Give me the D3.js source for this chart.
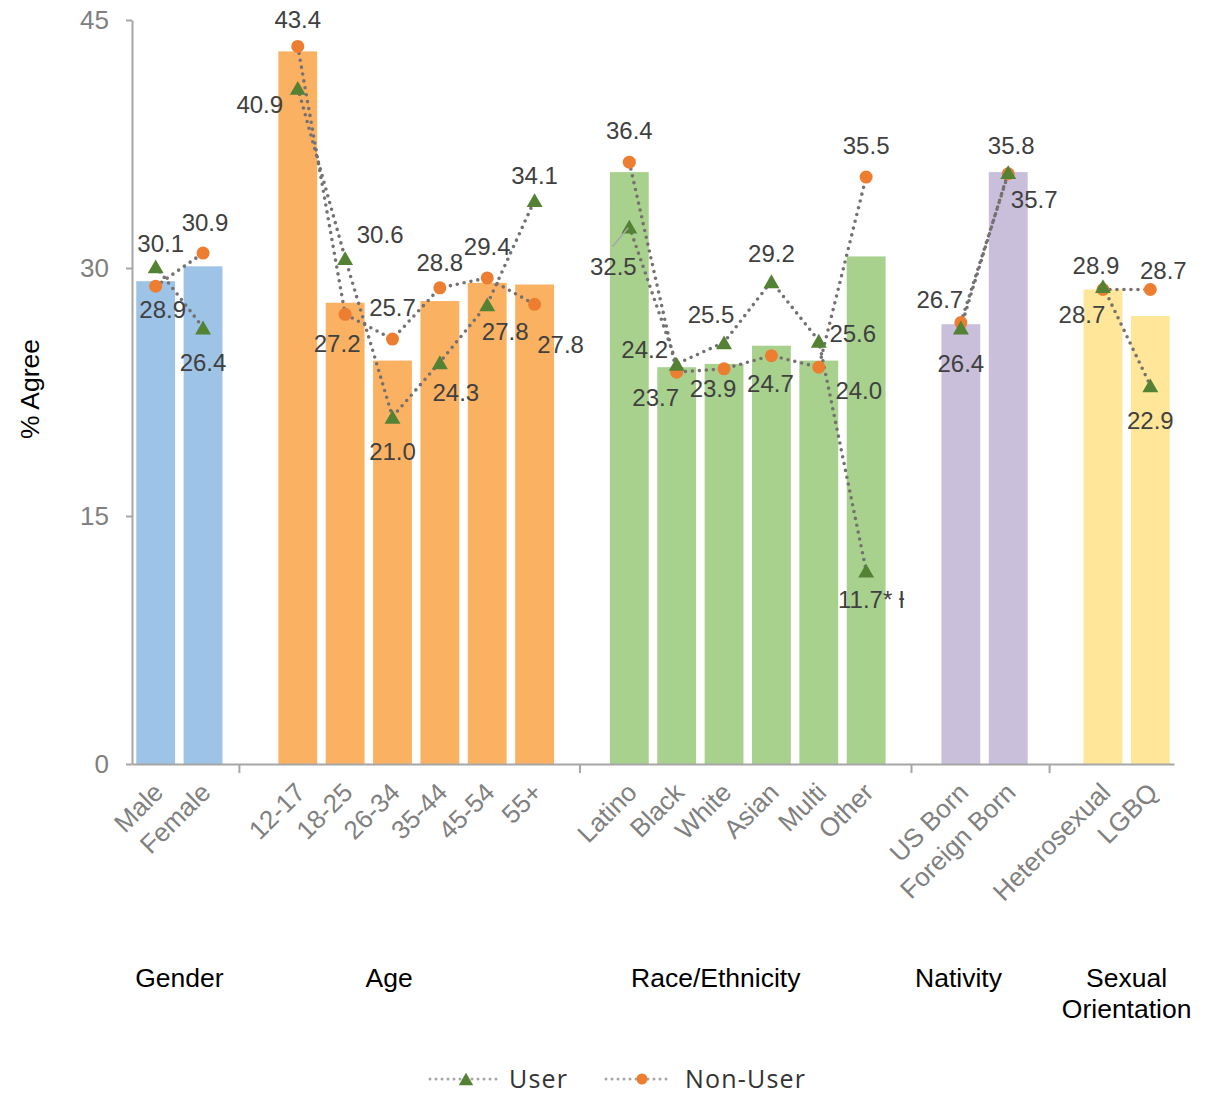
<!DOCTYPE html>
<html><head><meta charset="utf-8">
<script src="https://cdn.jsdelivr.net/npm/d3@7"></script>
<style>body{margin:0;background:#fff;} svg{display:block;}</style>
</head><body>
<svg id="chart" width="1207" height="1094"></svg>
<script>
// ---------- data ----------
const groups = ["Gender","Age","Race/Ethnicity","Nativity","Sexual Orientation"];
const categories = ["Male","Female","12-17","18-25","26-34","35-44","45-54","55+","Latino","Black","White","Asian","Multi","Other","US Born","Foreign Born","Heterosexual","LGBQ"];
const categoryGroup = [0,0,1,1,1,1,1,1,2,2,2,2,2,2,3,3,4,4];
const totalValues   = [29.2,30.1,43.1,27.9,24.4,28.0,29.1,29.0,35.8,24.0,24.2,25.3,24.4,30.7,26.6,35.8,28.7,27.1];
const userValues    = [30.1,26.4,40.9,30.6,21.0,24.3,27.8,34.1,32.5,24.2,25.5,29.2,25.6,11.7,26.4,35.8,28.9,22.9];
const nonUserValues = [28.9,30.9,43.4,27.2,25.7,28.8,29.4,27.8,36.4,23.7,23.9,24.7,24.0,35.5,26.7,35.7,28.7,28.7];
const userLabels = userValues.map(v => v.toFixed(1));
userLabels[13] = "11.7* \u019A";
const nonUserLabels = nonUserValues.map(v => v.toFixed(1));
const yTicks = [0, 15, 30, 45];
const seriesNames = ["User", "Non-User"];
const yTitle = "% Agree";

// ---------- layout / style ----------
const groupColors = ["#9DC3E6","#FAB162","#A9D18E","#C9BFDA","#FFE699"];
const userColor = "#548235", nonUserColor = "#ED7D31", lineColor = "#767171";
const userLabelOffsets = [[5,-23],[0,35],[-38,17],[35,-24],[0,35],[16,30],[18,27],[0,-25],[-16,40],[-32,-14],[-13,-28],[0,-28],[34,-7],[5,29],[0,36],[3,-27],[-7,-21],[0,35]];
const nonUserLabelOffsets = [[7,23],[2,-31],[0,-27],[-8,29],[0,-32],[0,-25],[0,-31],[26,40],[0,-32],[-21,25],[-11,20],[-1,28],[40,23],[0,-32],[-21,-23],[26,26],[-21,25],[13,-19]];
const groupLabelDx = [0,-27,-32,-26,0];
const separatorDx = [-11,-2,-2,-6];
const FONT = "'Liberation Sans', Arial, sans-serif";

const svg = d3.select("#chart");

// slots with gaps between groups
const slots = [];
groups.forEach((g, gi) => {
  categories.forEach((c, i) => { if (categoryGroup[i] === gi) slots.push(c); });
  if (gi < groups.length - 1) slots.push("gap" + gi);
});

const x = d3.scaleBand().domain(slots).range([132, 1174]).paddingInner(0.18).paddingOuter(0.09);
const y = d3.scaleLinear().domain([0, 45]).range([764, 20]);
const cx = c => x(c) + x.bandwidth() / 2;

// bars
svg.append("g").selectAll("rect").data(categories).join("rect")
  .attr("x", c => x(c))
  .attr("y", (c, i) => y(totalValues[i]))
  .attr("width", x.bandwidth())
  .attr("height", (c, i) => y(0) - y(totalValues[i]))
  .attr("fill", (c, i) => groupColors[categoryGroup[i]]);

// y axis
const yg = svg.append("g").attr("transform", "translate(132,0)")
  .call(d3.axisLeft(y).tickValues(yTicks).tickSize(6).tickSizeOuter(0).tickPadding(17));
yg.select(".domain").attr("stroke", "#A6A6A6").attr("stroke-width", 2);
yg.selectAll(".tick line").attr("stroke", "#A6A6A6").attr("stroke-width", 2);
yg.selectAll(".tick text").attr("fill", "#808080").attr("font-size", 26).attr("font-family", FONT);

// x axis
const xg = svg.append("g").attr("transform", "translate(0,764)")
  .call(d3.axisBottom(x).tickValues(categories).tickSize(0).tickSizeOuter(0));
xg.select(".domain").attr("stroke", "#A6A6A6").attr("stroke-width", 2);
xg.selectAll(".tick text")
  .attr("x", 0).attr("y", 0).attr("dy", "0.71em")
  .attr("transform", "translate(-4,17) rotate(-45)")
  .attr("text-anchor", "end")
  .attr("fill", "#808080").attr("font-size", 26).attr("font-family", FONT);

// group separators
svg.append("g").selectAll("line").data(slots.filter(s => s.startsWith("gap"))).join("line")
  .attr("x1", (s, k) => cx(s) + separatorDx[k]).attr("x2", (s, k) => cx(s) + separatorDx[k])
  .attr("y1", 764).attr("y2", 773)
  .attr("stroke", "#A6A6A6").attr("stroke-width", 2);

// lines (per group)
const lineGen = vals => d3.line().x(i => cx(categories[i])).y(i => y(vals[i]));
const lg = svg.append("g");
groups.forEach((g, gi) => {
  const idx = categories.map((c, i) => i).filter(i => categoryGroup[i] === gi);
  [nonUserValues, userValues].forEach(vals => {
    lg.append("path").attr("d", lineGen(vals)(idx))
      .attr("fill", "none").attr("stroke", lineColor).attr("stroke-width", 3.6)
      .attr("stroke-dasharray", "0 7").attr("stroke-linecap", "round");
  });
});

// markers
const triSize = 110;
const triH = 3 * Math.sqrt(triSize / (Math.sqrt(3) * 3));
svg.append("g").selectAll("circle").data(categories).join("circle")
  .attr("cx", c => cx(c)).attr("cy", (c, i) => y(nonUserValues[i]))
  .attr("r", 6.5).attr("fill", nonUserColor);
svg.append("g").selectAll("path").data(categories).join("path")
  .attr("d", d3.symbol(d3.symbolTriangle, triSize))
  .attr("transform", (c, i) => `translate(${cx(c)},${y(userValues[i]) + triH / 6})`)
  .attr("fill", userColor);

// leader line for Latino user label
svg.append("line")
  .attr("x1", cx("Latino") - 17).attr("y1", y(userValues[8]) + 20)
  .attr("x2", cx("Latino") - 1).attr("y2", y(userValues[8]) + 1)
  .attr("stroke", "#A6A6A6").attr("stroke-width", 1.5);

// data labels
const labG = svg.append("g").attr("font-family", FONT).attr("font-size", 24).attr("fill", "#404040")
  .attr("text-anchor", "middle").attr("dominant-baseline", "central");
categories.forEach((c, i) => {
  labG.append("text")
    .attr("x", cx(c) + nonUserLabelOffsets[i][0]).attr("y", y(nonUserValues[i]) + nonUserLabelOffsets[i][1])
    .text(nonUserLabels[i]);
  labG.append("text")
    .attr("x", cx(c) + userLabelOffsets[i][0]).attr("y", y(userValues[i]) + userLabelOffsets[i][1])
    .text(userLabels[i]);
});

// group labels
const gl = svg.append("g").attr("font-family", FONT).attr("font-size", 26.5).attr("fill", "#000")
  .attr("text-anchor", "middle").attr("dominant-baseline", "central");
groups.forEach((g, gi) => {
  const cats = categories.filter((c, i) => categoryGroup[i] === gi);
  const mx = (cx(cats[0]) + cx(cats[cats.length - 1])) / 2 + groupLabelDx[gi];
  const words = g === "Sexual Orientation" ? ["Sexual", "Orientation"] : [g];
  words.forEach((w, k) => gl.append("text").attr("x", mx).attr("y", 978 + k * 31).text(w));
});

// y title
svg.append("text").attr("transform", "translate(30,389) rotate(-90)")
  .attr("text-anchor", "middle").attr("dominant-baseline", "central")
  .attr("font-family", FONT).attr("font-size", 26.5).attr("fill", "#000").text(yTitle);

// legend
const leg = svg.append("g").attr("transform", "translate(0,1079)");
const legItems = [
  {name: seriesNames[0], x0: 430, x1: 497, mx: 466, tx: 509, type: "tri"},
  {name: seriesNames[1], x0: 606, x1: 672, mx: 642, tx: 685, type: "circ"}
];
legItems.forEach(it => {
  leg.append("line").attr("x1", it.x0).attr("x2", it.x1).attr("y1", 0).attr("y2", 0)
    .attr("stroke", "#A6A6A6").attr("stroke-width", 3).attr("stroke-dasharray", "0 6").attr("stroke-linecap", "round");
  if (it.type === "tri") {
    leg.append("path").attr("d", d3.symbol(d3.symbolTriangle, 90))
      .attr("transform", `translate(${it.mx},${Math.sqrt(90/(Math.sqrt(3)*3))*0.5})`).attr("fill", userColor);
  } else {
    leg.append("circle").attr("cx", it.mx).attr("cy", 0).attr("r", 5.5).attr("fill", nonUserColor);
  }
  leg.append("text").attr("x", it.tx).attr("y", 0).attr("dy", "0.34em")
    .attr("font-family", "'Open Sans', sans-serif").attr("font-size", 25).attr("letter-spacing", 1.2)
    .attr("fill", "#333").text(it.name);
});
</script>
</body></html>
